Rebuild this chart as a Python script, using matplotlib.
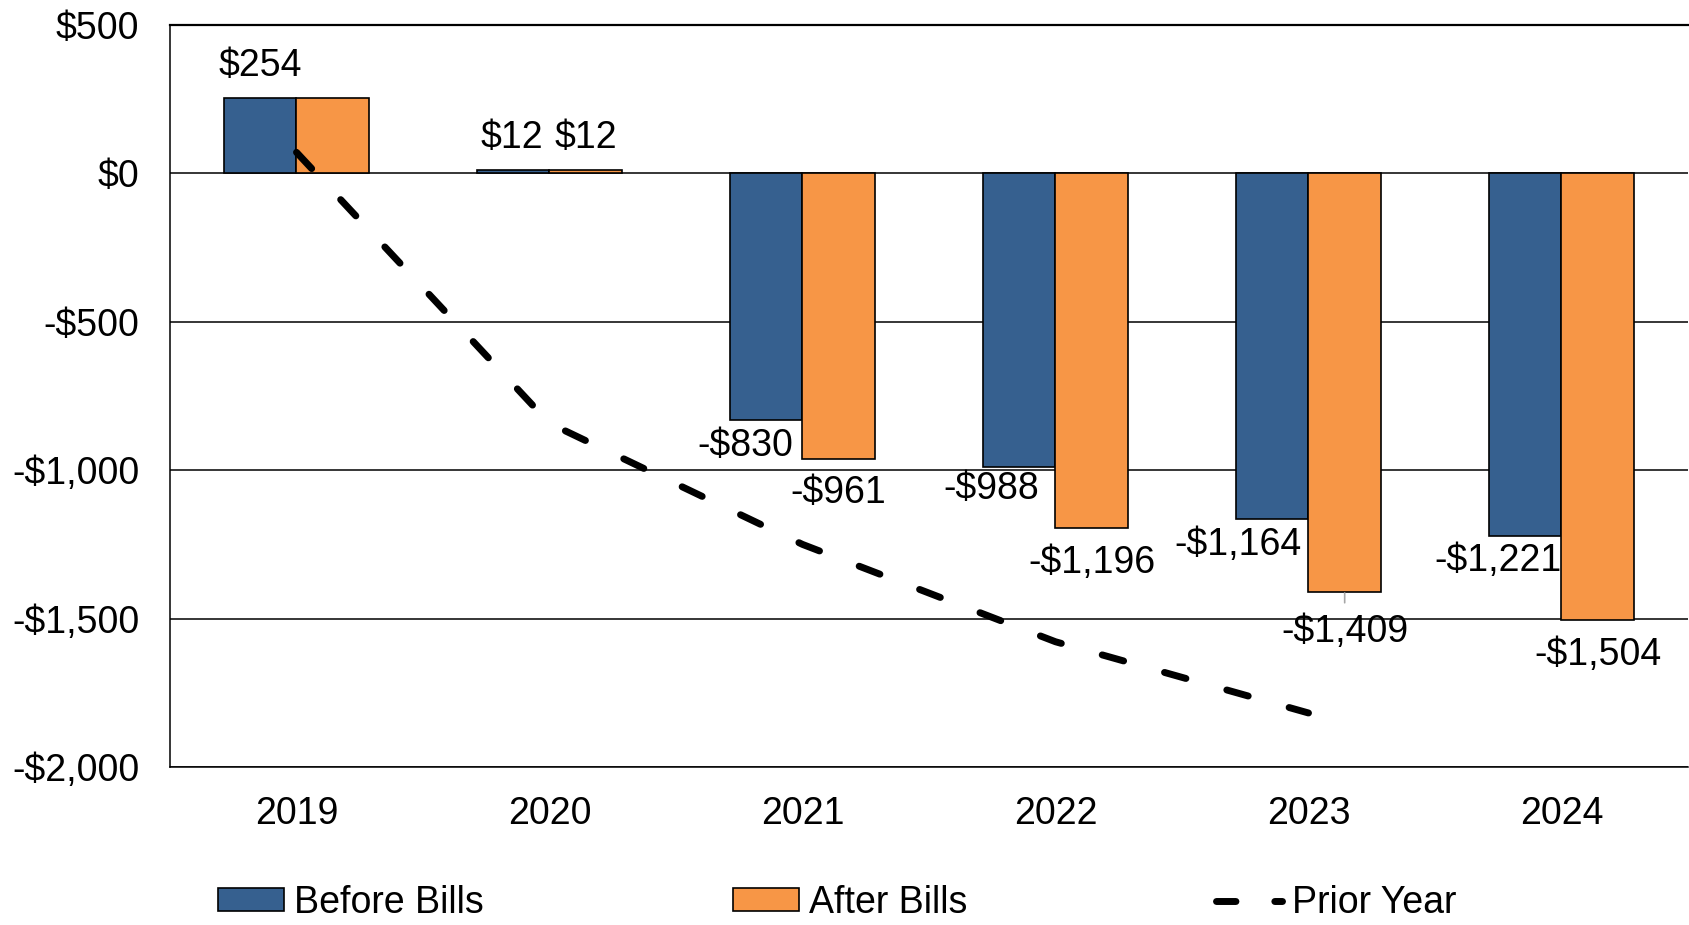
import matplotlib
matplotlib.use("Agg")
import matplotlib.pyplot as plt
from matplotlib.lines import Line2D
from matplotlib.patches import Patch
import numpy as np

plt.rcParams["font.family"] = ["Liberation Sans", "DejaVu Sans"]
plt.rcParams["lines.scale_dashes"] = False

years = ["2019", "2020", "2021", "2022", "2023", "2024"]
before_bills = [254, 12, -830, -988, -1164, -1221]
after_bills = [254, 12, -961, -1196, -1409, -1504]
prior_year = [71, -842, -1250, -1578, -1818]

before_labels = ["$254", "$12", "-$830", "-$988", "-$1,164", "-$1,221"]
after_labels = [None, "$12", "-$961", "-$1,196", "-$1,409", "-$1,504"]

BLUE = "#36608F"
ORANGE = "#F79646"
FS = 27

# label offsets in points (dx, dy) relative to bar end
before_off = [(0, 23), (-1, 23), (-15, -19), (-20, -16), (-25, -19), (-20, -18)]
after_off = [(0, 0), (0, 23), (0, -25), (0, -25), (0, -29), (0, -25)]

fig = plt.figure(figsize=(16.9, 9.25), dpi=100)
ax = fig.add_axes([170 / 1690, 1 - 767 / 925, (1688 - 170) / 1690, (767 - 25) / 925])

x = np.arange(len(years))
w = 0.286
ax.bar(x - w / 2, before_bills, w, color=BLUE, edgecolor="black", linewidth=1.2, zorder=3)
ax.bar(x + w / 2, after_bills, w, color=ORANGE, edgecolor="black", linewidth=1.2, zorder=3)

line, = ax.plot(x[:len(prior_year)], prior_year, color="black", lw=5,
                dash_capstyle="round", solid_capstyle="round", zorder=4)
line.set_dashes((16, 30.6))

for i in range(len(years)):
    dx, dy = before_off[i]
    ax.annotate(before_labels[i], (x[i] - w / 2, before_bills[i]), xytext=(dx, dy),
                textcoords="offset points", ha="center", va="center", fontsize=FS, zorder=5)
    if after_labels[i] is None:
        continue
    dx, dy = after_off[i]
    if years[i] == "2023":
        ax.annotate(after_labels[i], (x[i] + w / 2, after_bills[i]), xytext=(dx, dy),
                    textcoords="offset points", ha="center", va="center", fontsize=FS, zorder=5,
                    arrowprops=dict(arrowstyle="-", color="#A6A6A6", lw=1.2,
                                    shrinkA=6, shrinkB=1))
    else:
        ax.annotate(after_labels[i], (x[i] + w / 2, after_bills[i]), xytext=(dx, dy),
                    textcoords="offset points", ha="center", va="center", fontsize=FS, zorder=5)

ax.set_xlim(-0.5, 5.5)
ax.set_ylim(-2000, 500)
yt = [500, 0, -500, -1000, -1500, -2000]
ax.set_yticks(yt)
ax.set_yticklabels([("-" if v < 0 else "") + "${:,}".format(abs(v)) for v in yt])
ax.set_xticks(x)
ax.set_xticklabels(years)
ax.tick_params(axis="y", length=0, pad=22, labelsize=FS)
ax.tick_params(axis="x", length=0, pad=21, labelsize=FS)

ax.grid(axis="y", color="black", lw=1.1, zorder=1)
ax.set_axisbelow(True)
ax.spines["right"].set_visible(False)
ax.spines["top"].set_linewidth(1.6)
ax.spines["left"].set_linewidth(1.1)
ax.spines["bottom"].set_linewidth(1.1)

handles = [
    Patch(facecolor=BLUE, edgecolor="black", linewidth=1.2),
    Patch(facecolor=ORANGE, edgecolor="black", linewidth=1.2),
    Line2D([], [], color="black", lw=5, dashes=(14, 28), dash_capstyle="round"),
]
fig.legend(handles, ["Before Bills", "After Bills", "Prior Year"], loc="center left",
           bbox_to_anchor=(218 / 1690, 1 - 903 / 925), ncol=3, frameon=False,
           fontsize=FS, handlelength=1.76, handleheight=0.57, handletextpad=0.26,
           columnspacing=6.65, borderpad=0, borderaxespad=0)

fig.savefig("out.png", dpi=100)
